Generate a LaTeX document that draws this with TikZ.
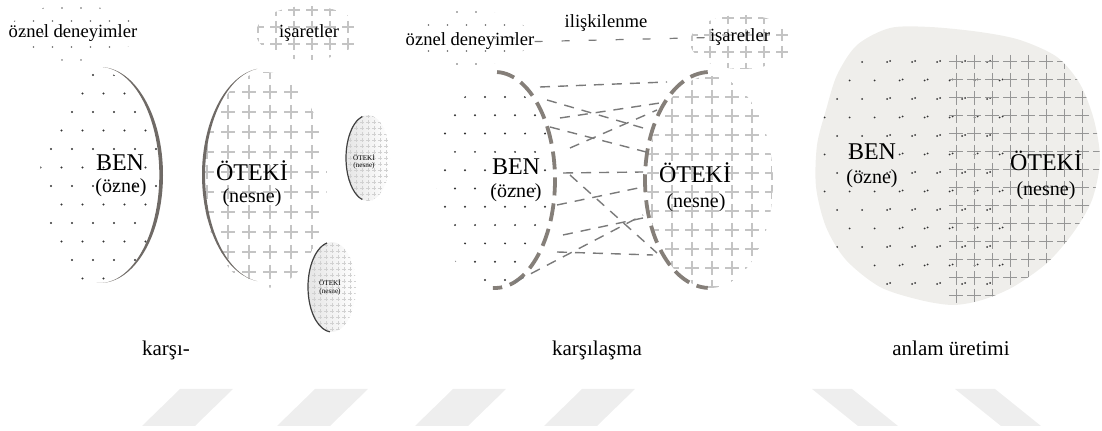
\documentclass[tikz,border=0pt]{standalone}
\usepackage{fontspec}
\setmainfont{Liberation Serif}
\usetikzlibrary{
%positioning,
shapes.geometric,
}
\definecolor{arcgray}{HTML}{6F6A66}
\definecolor{dashgray}{HTML}{857F79}
\definecolor{linkgray}{HTML}{7A7A7A}
\definecolor{crossgray}{HTML}{C4C4C4}
\definecolor{darkcross}{HTML}{969696}
\definecolor{dotgray}{HTML}{333333}
\definecolor{blobgray}{HTML}{EFEEEB}
\definecolor{wmgray}{HTML}{EEEEEE}
\tikzset{
every node/.style={align=center, inner sep=0pt},
word/.style={anchor=base, font=\fontsize{9.3}{11}\selectfont},
title/.style={anchor=base, font=\fontsize{10.5}{12}\selectfont},
self/.style={anchor=base, font=\fontsize{12}{14}\selectfont},
role/.style={anchor=base, font=\fontsize{10}{12}\selectfont},
mini/.style={anchor=base, font=\fontsize{3.6}{4}\selectfont},
wm/.style={fill=wmgray},
crosses/.style={draw=crossgray, line width=0.6pt},
rim/.style={draw=dashgray, line width=1.9pt, dash pattern=on 9pt off 4pt},
link/.style={draw=linkgray, line width=0.7pt, dash pattern=on 5pt off 4pt},
toplink/.style={draw=linkgray, line width=0.6pt, dash pattern=on 4pt off 9.5pt},
}
\begin{document}
\begin{tikzpicture}[x=0.5pt, y=-0.5pt]
\useasboundingbox (0,0) rectangle (1102,431);

% watermark
\foreach \x in {142,277,415,544}
  \fill[wm] (\x,426) -- ++(53,0) -- ++(38,-37) -- ++(-53,0) -- cycle;
\foreach \x in {812,955}
  \fill[wm] (\x,389) -- ++(40,0) -- ++(46,37) -- ++(-40,0) -- cycle;

%%% karsi-
\begin{scope}
  \clip (72,33) ellipse[x radius=64, y radius=28];
  \foreach \r in {0,...,4} \foreach \c in {0,...,7}
    \fill[black!60] ({5+19*\c+9.5*mod(\r,2)}, {8+13*\r}) circle[radius=0.9];
\end{scope}
\begin{scope}
  \clip (308,33) ellipse[x radius=52, y radius=27];
  \foreach \x in {258,276,...,366} \foreach \y in {10,27,...,61}
    \draw[crosses] (\x-6,\y) -- ++(12,0) (\x,\y-6) -- ++(0,12);
\end{scope}
\begin{scope}
  \clip (100,178) ellipse[x radius=60, y radius=106];
  \foreach \r in {0,...,11} \foreach \c in {0,...,6}
    \fill[dotgray] ({30+21*\c+10.5*mod(\r,2)}, {75+18.5*\r}) circle[radius=1.1];
\end{scope}
\begin{scope}
  \clip (265,180) ellipse[x radius=62, y radius=108];
  \foreach \x in {207,228,...,333} \foreach \y in {72,92,...,292}
    \draw[crosses] (\x-7,\y) -- ++(14,0) (\x,\y-7) -- ++(0,14);
\end{scope}
\fill[arcgray] (100,175) ++(-87:63 and 108) arc[start angle=-87, end angle=93, x radius=63, y radius=108]
  arc[start angle=93, end angle=-87, x radius=59.5, y radius=108] -- cycle;
\fill[arcgray] (265,175) ++(263:63 and 107) arc[start angle=263, end angle=97, x radius=63, y radius=107]
  arc[start angle=97, end angle=263, x radius=59.5, y radius=107] -- cycle;
\foreach \cx/\cy/\rx/\ry/\a/\b in {368/158/22/43/255/105, 332/287/24/45/258/95} {
  \begin{scope}
    \clip (\cx,\cy) ellipse[x radius=\rx, y radius=\ry];
    \shade[left color=black!10, right color=white] (\cx-\rx,\cy-\ry) rectangle (\cx+\rx,\cy+\ry);
    \foreach \x in {-24,-18,...,24} \foreach \y in {-48,-42,...,48}
      \draw[black!18, line width=0.25pt] (\cx+\x-2,\cy+\y) -- ++(4,0) (\cx+\x,\cy+\y-2) -- ++(0,4);
  \end{scope}
  \draw[black!75, line width=0.6pt] ({\cx+\rx*cos(\a)},{\cy+\ry*sin(\a)})
    arc[start angle=\a, end angle=\b, x radius=\rx, y radius=\ry];
}
\node[word] (oz1) at (73,38) {öznel deneyimler};
\node[word] (is1) at (309,38) {işaretler};
\node[self] (ben1) at (120,171) {BEN};
\node[role] (ozne1) at (121,193) {(özne)};
\node[self] (ot1) at (252,181) {ÖTEKİ};
\node[role] (nesne1) at (252,203) {(nesne)};
\node[mini] (ot2) at (364,161) {ÖTEKİ};
\node[mini] (nesne2) at (364,168) {(nesne)};
\node[mini] (ot3) at (330,286) {ÖTEKİ};
\node[mini] (nesne3) at (330,294) {(nesne)};
\node[title] (karsi) at (166,356) {karşı-};

%%% karsilasma
\begin{scope}
  \clip (468,38) ellipse[x radius=62, y radius=28];
  \foreach \r in {0,...,4} \foreach \c in {0,...,7}
    \fill[black!60] ({400+19*\c+9.5*mod(\r,2)}, {12+13*\r}) circle[radius=0.9];
\end{scope}
\begin{scope}
  \clip (742,42) ellipse[x radius=52, y radius=27];
  \foreach \x in {692,710,...,800} \foreach \y in {18,35,...,69}
    \draw[crosses] (\x-6,\y) -- ++(12,0) (\x,\y-6) -- ++(0,12);
\end{scope}
\begin{scope}
  \clip (495,185) ellipse[x radius=59, y radius=103];
  \foreach \r in {0,...,10} \foreach \c in {0,...,6}
    \fill[dotgray] ({425+20*\c+10*mod(\r,2)}, {97+18.3*\r}) circle[radius=1.1];
\end{scope}
\begin{scope}
  \clip (710,182) ellipse[x radius=63, y radius=106];
  \foreach \x in {652,672,...,772} \foreach \y in {78,97,...,287}
    \draw[crosses] (\x-7,\y) -- ++(14,0) (\x,\y-7) -- ++(0,14);
\end{scope}
\draw[rim] (495,180) ++(-88:60 and 108) arc[start angle=-88, end angle=92, x radius=60, y radius=108];
\draw[rim] (710,180) ++(268:65 and 108) arc[start angle=268, end angle=92, x radius=65, y radius=108];
\foreach \n/\p in {1/{540,87}, 2/{547,100}, 3/{560,118}, 4/{550,127}, 5/{570,148}, 6/{563,173},
                   7/{570,175}, 8/{557,205}, 9/{563,235}, 10/{515,282}, 11/{557,252}}
  \coordinate (a\n) at (\p);
\foreach \n/\p in {1/{667,82}, 2/{650,130}, 3/{660,103}, 4/{650,153}, 5/{657,110}, 6/{643,172},
                   7/{657,253}, 8/{643,187}, 9/{643,218}, 10/{643,215}, 11/{653,255}}
  \coordinate (b\n) at (\p);
\foreach \n in {1,...,11}
  \draw[link] (a\n) -- (b\n);
\node[word] (oz2) at (470,46) {öznel deneyimler};
\node[word] (is2) at (740,42) {işaretler};
\node[word] (ilis) at (606,28) {ilişkilenme};
\draw[toplink] (oz2.east) -- (is2.west);
\node[self] (ben2) at (516,175) {BEN};
\node[role] (ozne2) at (516,198) {(özne)};
\node[self] (ot4) at (695,183) {ÖTEKİ};
\node[role] (nesne4) at (696,208) {(nesne)};
\node[title] (karsilasma) at (597,356) {karşılaşma};

%%% anlam uretimi
\def\blob{plot[smooth cycle] coordinates {(890,28) (857,45) (837,75) (826,110) (817,145) (816,187)
  (826,227) (846,260) (880,287) (920,300) (953,305) (982,300) (1013,287) (1047,263) (1073,233)
  (1092,200) (1100,160) (1094,120) (1080,84) (1057,57) (1020,40) (980,32) (930,27)}}
\fill[blobgray] \blob;
\begin{scope}
  \clip \blob;
  \foreach \r in {0,...,12} \foreach \c in {0,...,7}
    \fill[dotgray] ({812+25*\c+12.5*mod(\r,2)}, {62+18.5*\r}) circle[radius=1];
  \foreach \r in {0,...,12} \foreach \c in {3,...,7}
    \fill[dotgray] ({815+25*\c+12.5*mod(\r,2)}, {61+18.5*\r}) circle[radius=1];
  \foreach \x in {956,974,...,1100} \foreach \y in {62,80,...,296}
    \draw[darkcross, line width=0.5pt] (\x-7,\y) -- ++(14,0) (\x,\y-7) -- ++(0,14);
\end{scope}
\node[self] (ben3) at (872,160) {BEN};
\node[role] (ozne3) at (872,184) {(özne)};
\node[self] (ot5) at (1046,171) {ÖTEKİ};
\node[role] (nesne5) at (1046,196) {(nesne)};
\node[title] (anlam) at (951,356) {anlam üretimi};
\end{tikzpicture}
\end{document}
